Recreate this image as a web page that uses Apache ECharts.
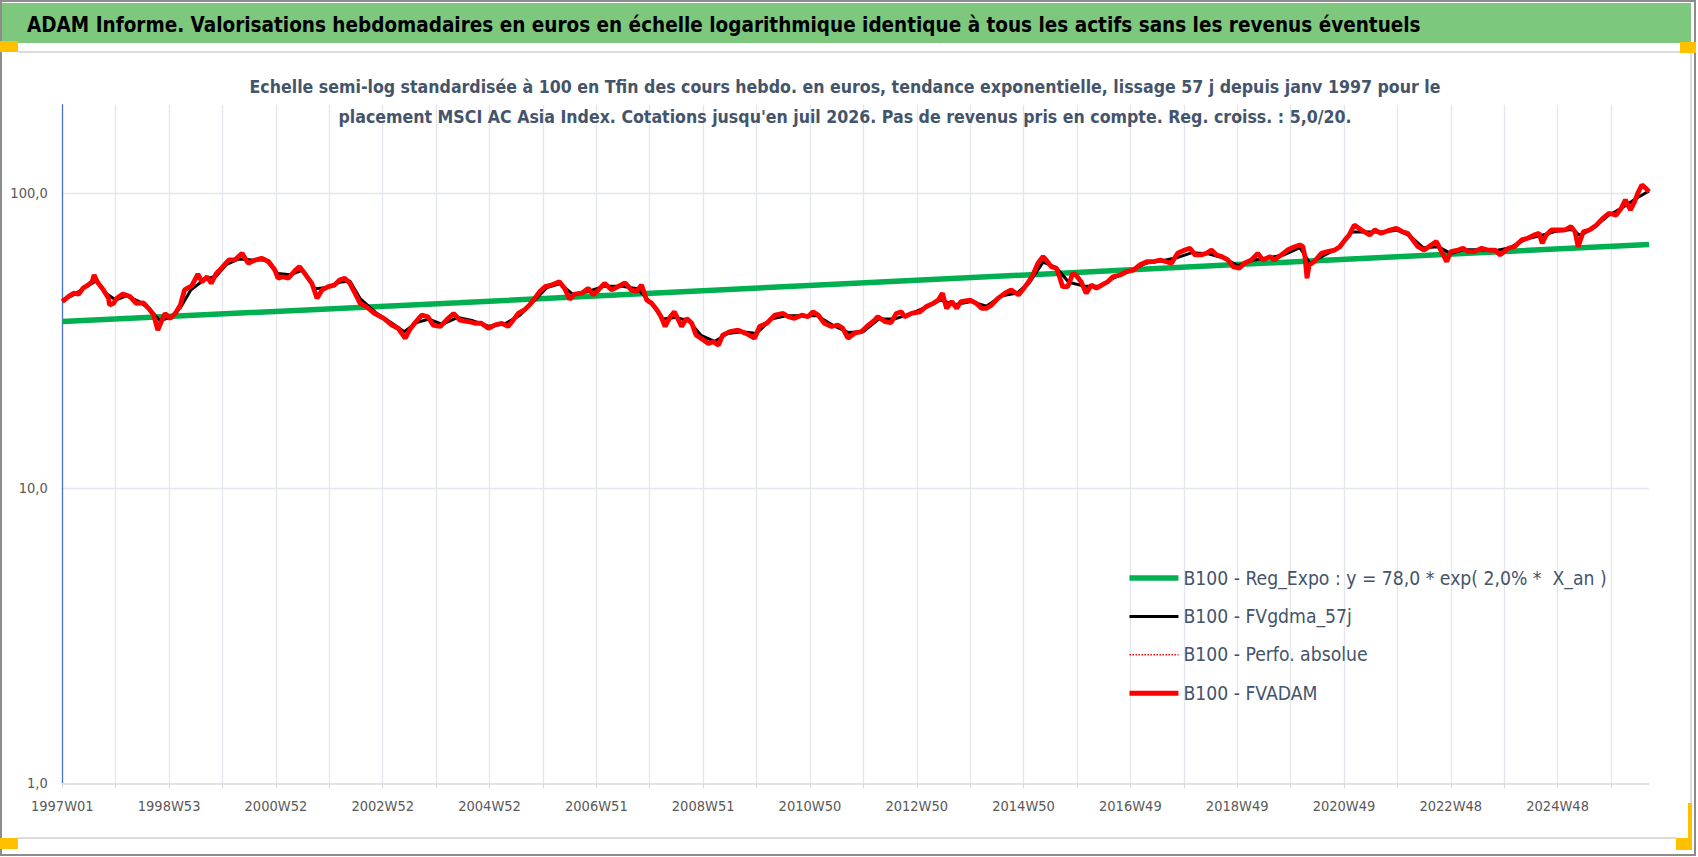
<!DOCTYPE html>
<html>
<head>
<meta charset="utf-8">
<title>ADAM Informe - MSCI AC Asia Index</title>
<script src="https://cdn.jsdelivr.net/npm/echarts@6/dist/echarts.min.js"></script>
<style>
  html, body { margin: 0; padding: 0; background: #fff; }
  #chart { width: 1698px; height: 857px; }
</style>
</head>
<body>
<div id="chart"></div>
<script>
// libellés de l'axe des semaines (un tous les 104 pas)
var xTickLabels = ['1997W01', '1998W53', '2000W52', '2002W52', '2004W52', '2006W51', '2008W51',
	'2010W50', '2012W50', '2014W50', '2016W49', '2018W49', '2020W49', '2022W48', '2024W48'];

// B100 - FVADAM (rang de la semaine depuis 1997W01, valeur base 100)
var redWeeks = [0, 6, 11, 16, 20, 25, 29, 31, 34, 40, 45, 46, 50, 53, 59, 66, 72, 79, 84, 89,
	93, 97, 100, 105, 110, 115, 119, 126, 132, 136, 141, 145, 150, 155, 162, 168, 175, 181, 188, 194,
	201, 207, 210, 215, 220, 227, 231, 236, 243, 248, 253, 259, 265, 270, 275, 280, 285, 290, 296, 304,
	313, 321, 327, 334, 338, 343, 350, 356, 361, 368, 374, 381, 387, 395, 402, 408, 415, 421, 428, 434,
	439, 444, 450, 455, 460, 465, 470, 476, 484, 489, 494, 499, 506, 512, 517, 522, 528, 535, 541, 548,
	554, 559, 564, 569, 574, 579, 583, 587, 592, 596, 603, 608, 613, 617, 624, 629, 634, 639, 643, 650,
	658, 665, 669, 674, 679, 686, 694, 702, 707, 713, 720, 726, 731, 736, 742, 749, 755, 760, 765, 772,
	778, 785, 791, 794, 801, 807, 812, 817, 820, 827, 835, 841, 848, 853, 857, 861, 866, 871, 875, 884,
	890, 895, 900, 905, 911, 918, 924, 931, 935, 940, 945, 950, 955, 958, 963, 968, 971, 974, 979, 984,
	987, 992, 997, 1002, 1007, 1012, 1018, 1023, 1030, 1036, 1043, 1049, 1056, 1062, 1069, 1075, 1080, 1086, 1093, 1098,
	1103, 1109, 1114, 1119, 1124, 1129, 1135, 1140, 1146, 1151, 1158, 1164, 1169, 1176, 1180, 1187, 1193, 1200, 1205, 1208,
	1210, 1212, 1214, 1219, 1226, 1232, 1239, 1244, 1249, 1253, 1258, 1265, 1273, 1278, 1284, 1291, 1299, 1305, 1310, 1315,
	1320, 1326, 1333, 1338, 1343, 1348, 1352, 1359, 1364, 1369, 1375, 1382, 1388, 1395, 1400, 1408, 1414, 1421, 1427, 1433,
	1438, 1441, 1445, 1450, 1456, 1463, 1469, 1473, 1476, 1481, 1487, 1494, 1500, 1506, 1513, 1518, 1522, 1527, 1531, 1534,
	1538, 1542, 1545];
var redVals = [43.0, 44.7, 45.9, 45.6, 47.7, 48.9, 50.2, 52.9, 50.2, 47.1, 44.1, 41.9, 42.4, 44.1, 45.6, 44.7, 42.4, 42.6, 40.8, 38.7,
	34.4, 37.2, 39.2, 37.7, 39.2, 41.9, 47.1, 48.6, 53.3, 50.2, 52.2, 49.6, 53.6, 55.8, 59.5, 59.5, 62.7, 58.0, 59.5, 60.3,
	58.7, 55.0, 51.6, 52.2, 51.6, 55.0, 56.5, 53.6, 49.6, 44.1, 47.1, 48.3, 48.9, 50.9, 51.6, 49.6, 45.9, 42.4, 41.3, 39.2,
	37.7, 35.8, 34.9, 32.3, 34.4, 36.3, 38.7, 38.2, 35.8, 35.4, 37.2, 39.2, 37.2, 36.8, 36.3, 36.3, 34.9, 35.8, 36.3, 35.4,
	37.2, 39.2, 40.3, 41.9, 44.1, 46.5, 48.3, 48.9, 50.2, 47.7, 43.8, 45.6, 45.9, 47.7, 45.3, 47.1, 49.6, 47.1, 48.3, 49.8,
	47.1, 46.5, 48.9, 43.5, 42.4, 40.3, 38.2, 35.4, 38.2, 39.7, 35.4, 37.7, 36.3, 33.1, 31.9, 31.0, 31.4, 30.6, 33.1, 34.0,
	34.4, 33.6, 33.1, 32.3, 35.4, 36.3, 38.7, 39.2, 38.2, 37.7, 38.7, 38.2, 39.7, 38.7, 36.3, 35.4, 35.8, 34.9, 32.3, 33.7,
	34.0, 35.8, 37.2, 38.2, 36.8, 36.5, 39.2, 39.7, 38.2, 39.2, 39.7, 41.3, 42.4, 43.5, 45.9, 40.8, 43.0, 40.8, 43.0, 43.5,
	42.4, 40.8, 40.8, 41.9, 44.1, 45.9, 47.1, 45.3, 47.1, 49.6, 52.9, 58.0, 61.1, 59.5, 56.5, 55.8, 52.2, 48.3, 48.3, 53.6,
	52.9, 50.2, 45.9, 48.9, 47.7, 48.9, 50.2, 52.2, 52.9, 54.3, 55.0, 57.2, 58.7, 58.7, 59.5, 58.7, 58.0, 62.7, 64.3, 65.2,
	61.9, 61.9, 62.7, 64.3, 61.9, 61.1, 59.5, 56.5, 55.8, 58.0, 59.5, 62.7, 59.5, 61.1, 59.5, 61.9, 64.3, 66.0, 66.9, 66.0,
	61.1, 51.6, 57.2, 58.7, 62.7, 63.5, 64.3, 66.0, 69.6, 72.3, 78.2, 75.2, 72.3, 75.2, 73.3, 74.8, 76.2, 74.2, 73.3, 69.6,
	66.0, 64.3, 66.9, 68.7, 63.5, 58.7, 63.5, 64.3, 65.2, 63.5, 63.5, 65.2, 64.3, 64.3, 61.9, 65.2, 66.0, 69.6, 70.5, 72.3,
	73.3, 67.8, 72.3, 75.2, 75.2, 75.2, 77.2, 74.2, 66.0, 74.2, 75.2, 78.2, 82.4, 85.7, 84.5, 89.1, 95.1, 87.9, 93.8, 100.1,
	106.9, 104.1, 101.4];

// B100 - FVgdma_57j (moyenne lissée)
var blackWeeks = [0, 12, 24, 33, 42, 52, 62, 75, 85, 95, 105, 115, 125, 138, 150, 160, 172, 185, 198, 210,
	222, 234, 246, 258, 270, 280, 290, 305, 320, 333, 345, 357, 370, 385, 400, 415, 430, 445, 460, 472,
	485, 497, 512, 528, 545, 560, 572, 585, 597, 610, 622, 635, 648, 662, 676, 690, 705, 720, 735, 750,
	765, 780, 795, 810, 825, 840, 855, 870, 885, 900, 915, 930, 942, 955, 968, 980, 995, 1010, 1025, 1040,
	1055, 1070, 1085, 1100, 1115, 1130, 1145, 1160, 1175, 1190, 1205, 1215, 1228, 1243, 1256, 1270, 1285, 1300, 1312, 1325,
	1340, 1352, 1365, 1380, 1395, 1410, 1425, 1440, 1455, 1470, 1478, 1490, 1505, 1520, 1532, 1545];
var blackVals = [43.5, 45.5, 48.5, 50.5, 46.0, 43.5, 45.0, 43.0, 40.5, 37.0, 38.0, 41.0, 47.0, 51.0, 52.5, 57.5, 60.0, 59.5, 59.5, 53.5,
	53.0, 55.0, 47.5, 48.0, 50.0, 50.5, 44.0, 39.5, 36.5, 34.0, 36.5, 37.5, 36.0, 38.0, 37.0, 35.5, 36.0, 38.5, 43.5, 48.0,
	49.5, 45.5, 46.5, 48.5, 48.5, 47.5, 43.0, 37.5, 38.0, 37.0, 33.0, 31.5, 33.5, 34.0, 33.5, 37.5, 38.5, 38.5, 38.5, 35.8,
	33.8, 34.0, 37.5, 37.5, 39.0, 41.0, 43.5, 42.0, 43.0, 41.5, 45.0, 46.0, 50.0, 58.5, 56.0, 50.0, 48.5, 48.5, 52.0, 54.5,
	58.0, 59.0, 60.5, 63.0, 62.5, 60.5, 57.0, 59.5, 60.5, 62.0, 65.5, 58.0, 61.5, 65.5, 74.0, 74.0, 74.0, 75.0, 72.0, 65.5,
	66.0, 62.5, 64.5, 64.5, 64.0, 65.5, 70.0, 72.0, 74.5, 75.5, 72.0, 76.0, 84.0, 90.0, 96.0, 102.0];

// B100 - Reg_Expo (droite de tendance)
var greenWeeks = [0, 386, 772, 1545];
var greenVals = [36.8, 42.6, 49.6, 67.2];

var seriesNames = ['B100 - Reg_Expo : y = 78,0 * exp( 2,0% *  X_an )', 'B100 - FVgdma_57j',
	'B100 - Perfo. absolue', 'B100 - FVADAM'];

var titleText = 'ADAM Informe. Valorisations hebdomadaires en euros en échelle logarithmique identique à tous les actifs sans les revenus éventuels';
var subLine1 = 'Echelle semi-log standardisée à 100 en Tfin des cours hebdo. en euros, tendance exponentielle, lissage 57 j depuis janv 1997 pour le';
var subLine2 = "placement MSCI AC Asia Index. Cotations jusqu'en juil 2026. Pas de revenus pris en compte. Reg. croiss. : 5,0/20.";

var FONT = '"DejaVu Sans Condensed", "Liberation Sans", sans-serif';

function pairs(xs, ys) {
	return xs.map(function (x, i) { return [x, ys[i]]; });
}

// entrée de légende : trait seul, sans symbole
function legendItem(name, width, type) {
	return { name: name, itemStyle: { opacity: 0 }, lineStyle: { width: width, type: type || 'solid' } };
}

var chart = echarts.init(document.getElementById('chart'), null, { renderer: 'svg' });

chart.setOption({
	animation: false,
	backgroundColor: '#ffffff',
	graphic: [
		{ type: 'rect', z: 0, shape: { x: 1, y: 1, width: 1694, height: 854 }, style: { fill: 'none', stroke: '#8c8c8c', lineWidth: 2 } },
		{ type: 'rect', z: 1, shape: { x: 2, y: 3, width: 1689, height: 40 }, style: { fill: '#7ec87e' } },
		{ type: 'line', z: 1, shape: { x1: 18, y1: 52, x2: 1680, y2: 52 }, style: { stroke: '#dcdcdc', lineWidth: 2 } },
		{ type: 'line', z: 1, shape: { x1: 1691, y1: 53, x2: 1691, y2: 838 }, style: { stroke: '#dcdcdc', lineWidth: 2 } },
		{ type: 'line', z: 1, shape: { x1: 18, y1: 838, x2: 1676, y2: 838 }, style: { stroke: '#dcdcdc', lineWidth: 2 } },
		{ type: 'rect', z: 2, shape: { x: 0, y: 41, width: 18, height: 11 }, style: { fill: '#ffc000' } },
		{ type: 'rect', z: 2, shape: { x: 1680, y: 42, width: 16, height: 11 }, style: { fill: '#ffc000' } },
		{ type: 'rect', z: 2, shape: { x: 0, y: 838, width: 18, height: 11 }, style: { fill: '#ffc000' } },
		{ type: 'rect', z: 2, shape: { x: 1676, y: 838, width: 16, height: 12 }, style: { fill: '#ffc000' } },
		{ type: 'rect', z: 2, shape: { x: 1688, y: 803, width: 4, height: 47 }, style: { fill: '#ffc000' } },
		{ type: 'text', z: 3, style: { x: 27, y: 24.5, text: titleText, textVerticalAlign: 'middle',
			font: 'bold 20.5px ' + FONT, fill: '#000000' } },
		{ type: 'text', z: 3, style: { x: 845, y: 86.5, text: subLine1, textAlign: 'center', textVerticalAlign: 'middle',
			font: 'bold 17.6px ' + FONT, fill: '#44546a' } },
		{ type: 'text', z: 3, style: { x: 845, y: 116.5, text: subLine2, textAlign: 'center', textVerticalAlign: 'middle',
			font: 'bold 17.6px ' + FONT, fill: '#44546a' } }
	],
	grid: { left: 62.3, right: 49, top: 104.7, bottom: 73.7, containLabel: false, outerBoundsMode: 'none' },
	legend: {
		orient: 'vertical',
		left: 1126.7,
		top: 566,
		padding: 0,
		itemWidth: 49,
		itemHeight: 14,
		itemGap: 14.4,
		data: [
			legendItem(seriesNames[0], 5.5),
			legendItem(seriesNames[1], 3),
			legendItem(seriesNames[2], 1.5, 'dotted'),
			legendItem(seriesNames[3], 5)
		],
		textStyle: { fontFamily: FONT, fontSize: 19.2, color: '#44546a', lineHeight: 24 }
	},
	xAxis: {
		type: 'value',
		min: 0,
		max: 1545,
		interval: 52,
		axisLine: { onZero: false, lineStyle: { color: '#d9d9d9', width: 1.5 } },
		axisTick: { show: true, length: 5, lineStyle: { color: '#d9d9d9' } },
		axisLabel: {
			margin: 15,
			showMaxLabel: false,
			fontFamily: FONT,
			fontSize: 14.5,
			color: '#595959',
			formatter: function (v) {
				if (v % 104 !== 0) return '';
				return xTickLabels[v / 104] || '';
			}
		},
		splitLine: { show: true, showMinLine: false, showMaxLine: false, lineStyle: { color: '#e3e6ec', width: 1.3 } }
	},
	yAxis: {
		type: 'log',
		logBase: 10,
		min: 1,
		max: 200,
		axisLine: { show: true, lineStyle: { color: '#4a72c4', width: 1.3 } },
		axisTick: { show: false },
		axisLabel: {
			margin: 14.6,
			showMaxLabel: false,
			fontFamily: FONT,
			fontSize: 14.5,
			color: '#595959',
			formatter: function (v) {
				var l = Math.log10(v);
				if (Math.abs(l - Math.round(l)) > 1e-6) return '';
				return v.toFixed(1).replace('.', ',');
			}
		},
		splitLine: { show: true, showMinLine: false, showMaxLine: false, lineStyle: { color: '#e3e6ec', width: 1.3 } }
	},
	series: [
		{ name: seriesNames[0], type: 'line', data: pairs(greenWeeks, greenVals), showSymbol: false, symbol: 'none',
			color: '#00b050', lineStyle: { color: '#00b050', width: 5.5 } },
		{ name: seriesNames[1], type: 'line', data: pairs(blackWeeks, blackVals), showSymbol: false, symbol: 'none',
			color: '#000000', lineStyle: { color: '#000000', width: 3 } },
		{ name: seriesNames[2], type: 'line', data: pairs(redWeeks, redVals), showSymbol: false, symbol: 'none',
			color: '#ff0000', lineStyle: { color: '#ff0000', width: 1.5, type: 'dotted' } },
		{ name: seriesNames[3], type: 'line', data: pairs(redWeeks, redVals), showSymbol: false, symbol: 'none',
			color: '#ff0000', lineStyle: { color: '#ff0000', width: 4.8 } }
	]
});
</script>
</body>
</html>
